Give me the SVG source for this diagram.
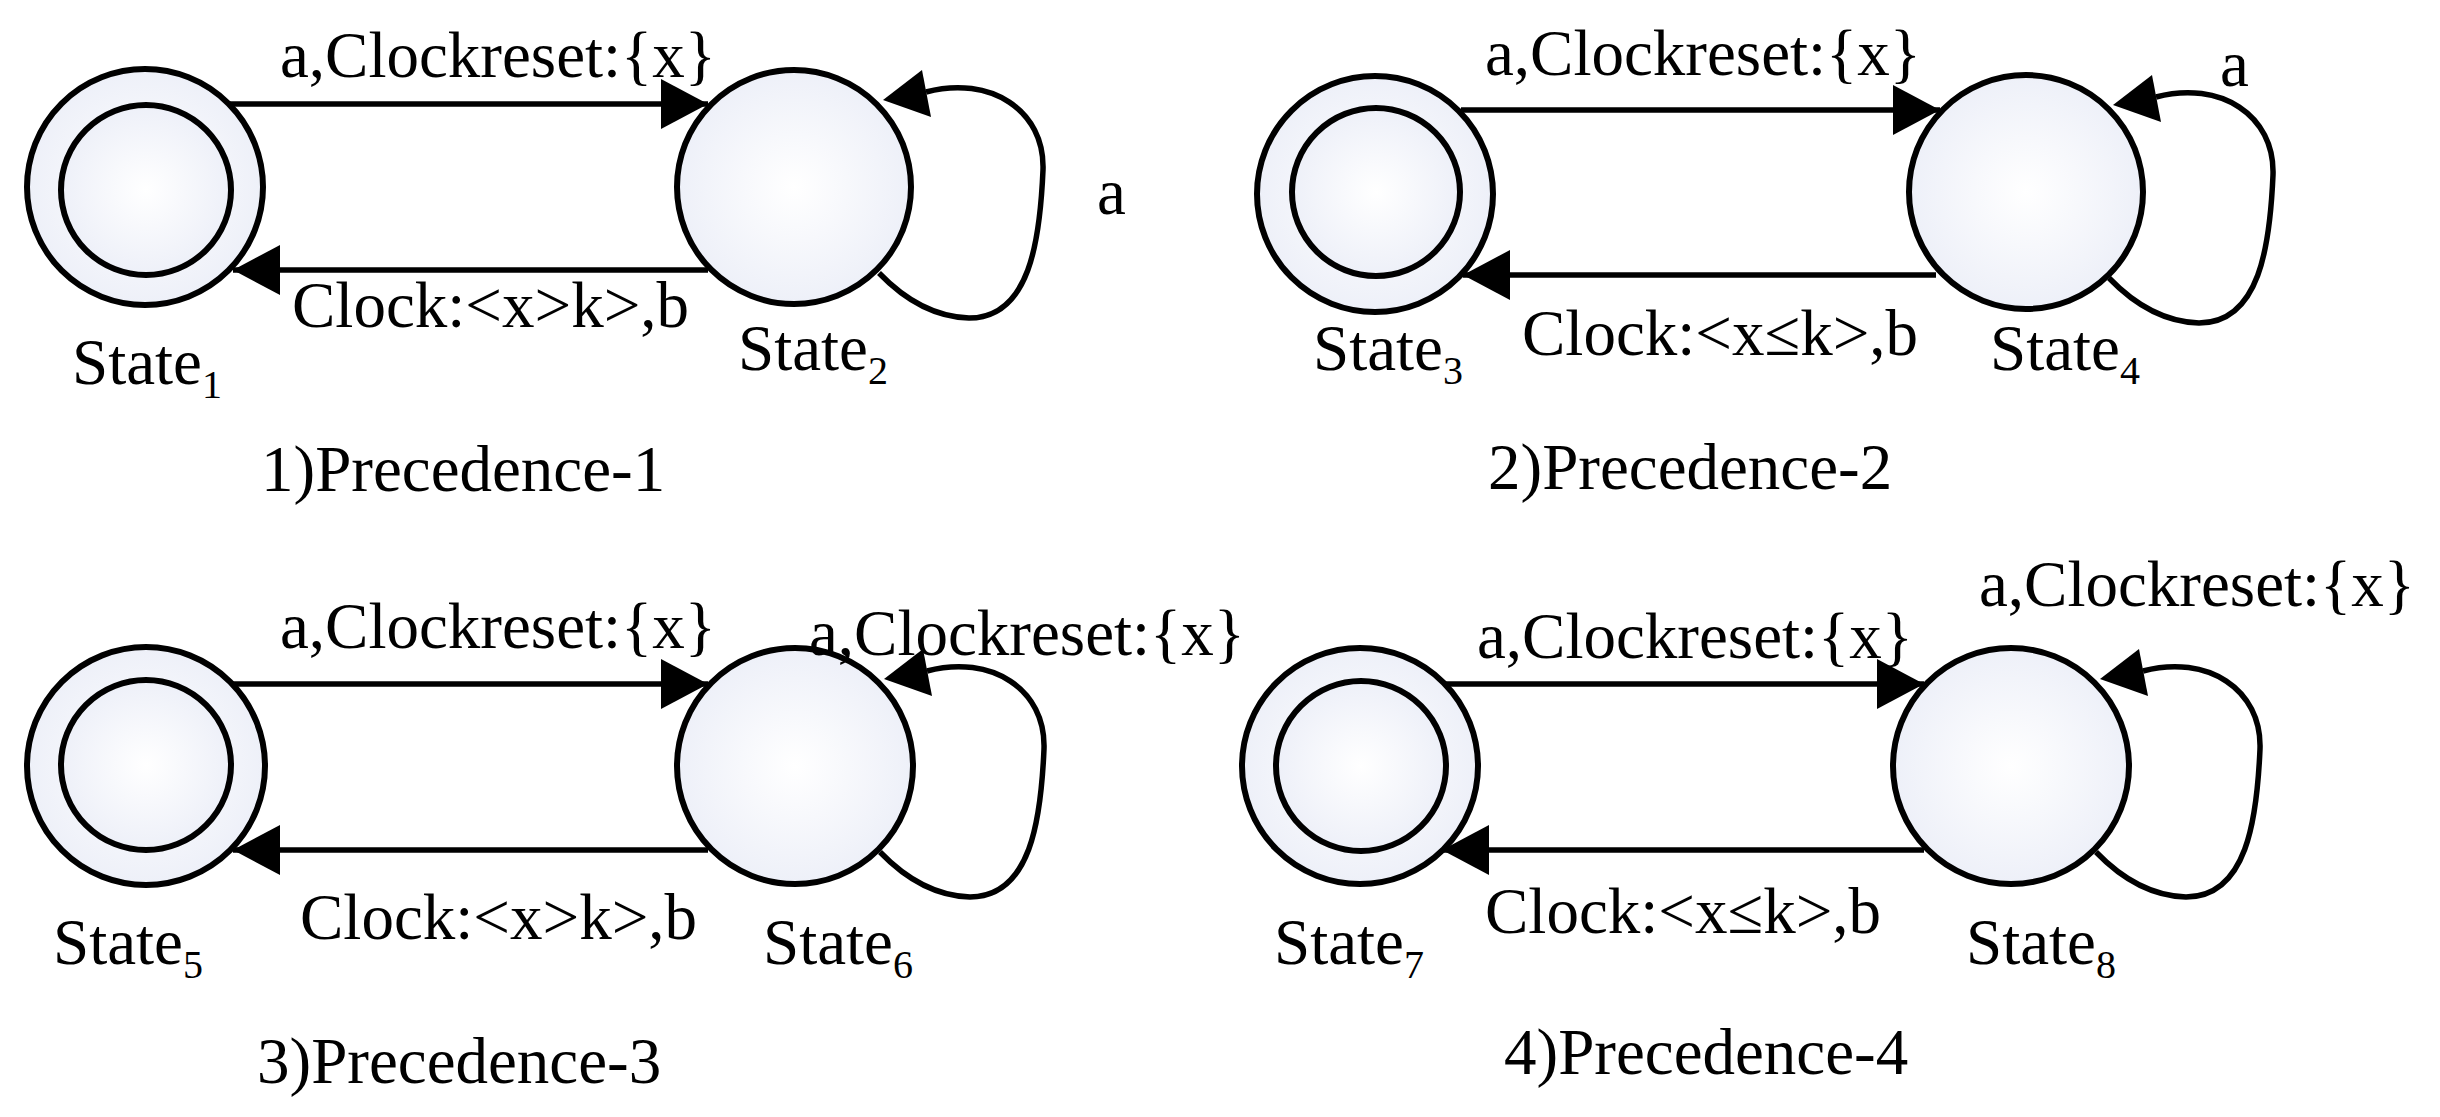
<svg xmlns="http://www.w3.org/2000/svg" xmlns:xlink="http://www.w3.org/1999/xlink" width="2440" height="1117" viewBox="0 0 2440 1117">
<style>
.st{fill:url(#g);stroke:#000;stroke-width:6}
.ln{fill:none;stroke:#000;stroke-width:5.5}
.ah{fill:#000}
text{font-family:"Liberation Serif","Times New Roman",serif;font-size:65px;fill:#000}
.sub{font-size:40px}
</style>
<defs>
<radialGradient id="g" cx="0.5" cy="0.5" r="0.6"><stop offset="0" stop-color="#ffffff"/><stop offset="1" stop-color="#eaedf7"/></radialGradient>
<marker id="arr" markerUnits="userSpaceOnUse" markerWidth="48" markerHeight="50" refX="47" refY="25" orient="auto"><path d="M0,0 L47,25 L0,50 z" class="ah"/></marker>
<g id="loop"><path class="ln" d="M132,-95 C196,-112 251,-77 249,-17 C246,53 236,131 175,131 C141,130 111,113 85,86"/><polygon class="ah" points="89,-87 128,-117 137,-70"/></g>
</defs>
<rect width="2440" height="1117" fill="#fff"/>
<g id="State1"><circle class="st" cx="145" cy="187" r="118"/><circle class="st" cx="146" cy="190" r="85"/><text x="72" y="384">State<tspan class="sub" dy="14">1</tspan></text></g>
<g id="State2"><circle class="st" cx="794" cy="187" r="117"/><text x="738" y="370">State<tspan class="sub" dy="14">2</tspan></text></g>
<g id="State3"><circle class="st" cx="1375" cy="194" r="118"/><circle class="st" cx="1376" cy="192" r="84"/><text x="1313" y="370">State<tspan class="sub" dy="14">3</tspan></text></g>
<g id="State4"><circle class="st" cx="2026" cy="192" r="117"/><text x="1990" y="370">State<tspan class="sub" dy="14">4</tspan></text></g>
<g id="State5"><circle class="st" cx="146" cy="766" r="119"/><circle class="st" cx="146" cy="765" r="85"/><text x="53" y="964">State<tspan class="sub" dy="14">5</tspan></text></g>
<g id="State6"><circle class="st" cx="795" cy="766" r="118"/><text x="763" y="964">State<tspan class="sub" dy="14">6</tspan></text></g>
<g id="State7"><circle class="st" cx="1360" cy="766" r="118"/><circle class="st" cx="1361" cy="766" r="85"/><text x="1274" y="964">State<tspan class="sub" dy="14">7</tspan></text></g>
<g id="State8"><circle class="st" cx="2011" cy="766" r="118"/><text x="1966" y="964">State<tspan class="sub" dy="14">8</tspan></text></g>
<g id="connectors">
<line class="ln" x1="230" y1="104" x2="708" y2="104" marker-end="url(#arr)"/>
<line class="ln" x1="708" y1="270" x2="233" y2="270" marker-end="url(#arr)"/>
<use xlink:href="#loop" transform="translate(794,187)"/>
<line class="ln" x1="1461" y1="110" x2="1940" y2="110" marker-end="url(#arr)"/>
<line class="ln" x1="1936" y1="275" x2="1463" y2="275" marker-end="url(#arr)"/>
<use xlink:href="#loop" transform="translate(2024,192)"/>
<line class="ln" x1="233" y1="684" x2="708" y2="684" marker-end="url(#arr)"/>
<line class="ln" x1="708" y1="850" x2="233" y2="850" marker-end="url(#arr)"/>
<use xlink:href="#loop" transform="translate(795,766)"/>
<line class="ln" x1="1446" y1="684" x2="1924" y2="684" marker-end="url(#arr)"/>
<line class="ln" x1="1924" y1="850" x2="1442" y2="850" marker-end="url(#arr)"/>
<use xlink:href="#loop" transform="translate(2011,766)"/>
</g>
<g id="labels">
<text x="280" y="77">a,Clockreset:{x}</text>
<text x="292" y="327">Clock:&lt;x&gt;k&gt;,b</text>
<text x="1097" y="214">a</text>
<text x="261" y="491">1)Precedence-1</text>
<text x="1485" y="75">a,Clockreset:{x}</text>
<text x="1522" y="355">Clock:&lt;x≤k&gt;,b</text>
<text x="2220" y="86">a</text>
<text x="1488" y="489">2)Precedence-2</text>
<text x="280" y="648">a,Clockreset:{x}</text>
<text x="809" y="655">a,Clockreset:{x}</text>
<text x="300" y="939">Clock:&lt;x&gt;k&gt;,b</text>
<text x="257" y="1083">3)Precedence-3</text>
<text x="1477" y="658">a,Clockreset:{x}</text>
<text x="1979" y="606">a,Clockreset:{x}</text>
<text x="1485" y="933">Clock:&lt;x≤k&gt;,b</text>
<text x="1504" y="1074">4)Precedence-4</text>
</g>
</svg>
